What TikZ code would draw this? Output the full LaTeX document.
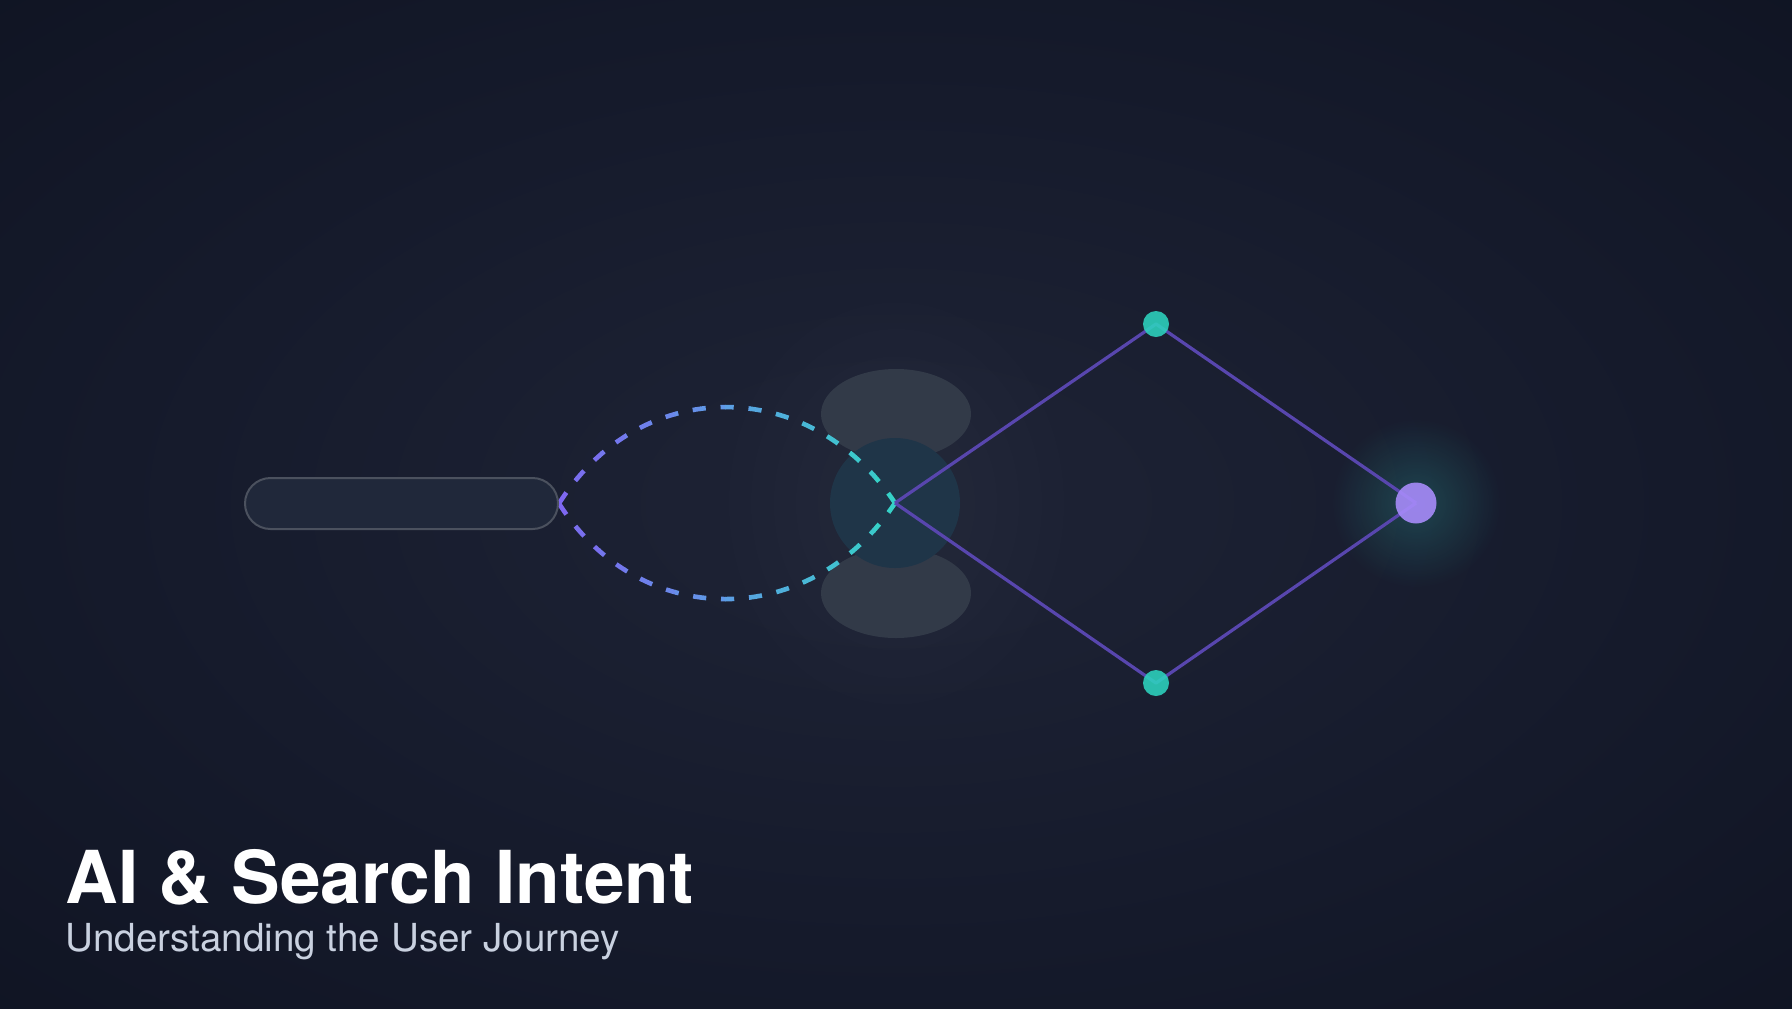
\documentclass[tikz,border=0pt]{standalone}
\usepackage{fontspec}
\setmainfont{TeX Gyre Heros}
\usetikzlibrary{fadings,shapes.geometric}
\definecolor{bgin}{HTML}{1C2133}
\definecolor{bgmid}{HTML}{151A2B}
\definecolor{bgout}{HTML}{0E1220}
\definecolor{dpurple}{HTML}{7F66F0}
\definecolor{dblue}{HTML}{5E9CE6}
\definecolor{dteal}{HTML}{34D3C6}
\definecolor{edgecol}{HTML}{5846AE}
\definecolor{tealdot}{HTML}{2DD4BF}
\definecolor{purpledot}{HTML}{A78BFA}
\definecolor{pillfill}{HTML}{20283A}
\definecolor{pillline}{HTML}{4B515E}
\definecolor{blobcol}{HTML}{323A48}
\definecolor{hubcol}{HTML}{1F3548}
\definecolor{subcol}{HTML}{C9D1E0}
\pgfdeclareradialshading{bgshade}{\pgfpoint{0bp}{0bp}}{color(0bp)=(bgin); color(6bp)=(bgin); color(22bp)=(bgmid); color(42bp)=(bgout); color(72bp)=(bgout)}
\tikzfading[name=softglow, inner color=transparent!0, outer color=transparent!100]
\pgfdeclarelayer{bglayer}
\pgfdeclarelayer{edgelayer}
\pgfsetlayers{bglayer,edgelayer,main}
\tikzset{
  pill/.style={draw=pillline, line width=1pt, fill=pillfill, rounded corners=12.75pt, minimum width=156.5pt, minimum height=25.5pt, inner sep=0pt},
  blob/.style={ellipse, minimum width=75pt, minimum height=45pt, fill=blobcol, inner sep=0pt},
  hubstyle/.style={circle, minimum size=65pt, fill=hubcol, inner sep=0pt},
  tealnode/.style={circle, minimum size=13pt, fill=tealdot, fill opacity=0.88, inner sep=0pt},
  endnode/.style={circle, minimum size=20.5pt, fill=purpledot, fill opacity=0.9, inner sep=0pt},
  edge/.style={draw=edgecol, line width=1.6pt, line join=round},
  dashcurve/.style={line width=2.3pt, dash pattern=on 6.6pt off 7.4pt},
  titlefont/.style={anchor=base west, inner sep=0pt, text=white, font=\fontsize{36.5}{38}\selectfont\bfseries},
  subfont/.style={anchor=base west, inner sep=0pt, text=subcol, font=\fontsize{19.3}{21}\selectfont}
}
\begin{document}
\begin{tikzpicture}[x=0.5pt, y=-0.5pt]
\begin{pgfonlayer}{bglayer}
  \shade[shading=bgshade] (0,0) rectangle (1792,1008);
  \fill[white, opacity=0.035, path fading=softglow] (896,503) ellipse [x radius=200, y radius=240];
  \node[blob] (blobtop) at (896,414) {};
  \node[blob] (blobbot) at (896,593) {};
  \node[hubstyle] (hubc) at (895,503) {};
  \fill[dteal, opacity=0.22, path fading=softglow] (1416,503) circle (85);
\end{pgfonlayer}
\useasboundingbox (0,0) rectangle (1792,1008);

\node[pill] (query) at (401.5,503.5) {};
\node[tealnode] (ntop) at (1156,324) {};
\node[tealnode] (nbot) at (1156,683) {};
\node[endnode] (nright) at (1416,503) {};

\begin{pgfonlayer}{edgelayer}
  \foreach \i in {0,...,14}{
    \pgfmathsetmacro\xa{550+25*\i}
    \pgfmathsetmacro\xb{\xa+25.6}
    \pgfmathsetmacro\tt{(\xa+12.5-558)/337}
    \pgfmathsetmacro\pa{max(0,min(100,200*\tt))}
    \pgfmathsetmacro\pb{max(0,min(100,200*\tt-100))}
    \colorlet{ca}{dblue!\pa!dpurple}
    \colorlet{cb}{dteal!\pb!ca}
    \begin{scope}
      \clip (\xa,300) rectangle (\xb,700);
      \draw[dashcurve, cb] (query.east) .. controls (640,375) and (810,375) .. (hubc.center);
      \draw[dashcurve, cb] (query.east) .. controls (640,631) and (810,631) .. (hubc.center);
    \end{scope}
  }
  \draw[edge] (hubc.center) -- (ntop.center) -- (nright.center);
  \draw[edge] (hubc.center) -- (nbot.center) -- (nright.center);
\end{pgfonlayer}

\node[titlefont] (title) at (65,903) {AI \& Search Intent};
\node[subfont] (subtitle) at (65,951) {Understanding the User Journey};
\end{tikzpicture}
\end{document}
